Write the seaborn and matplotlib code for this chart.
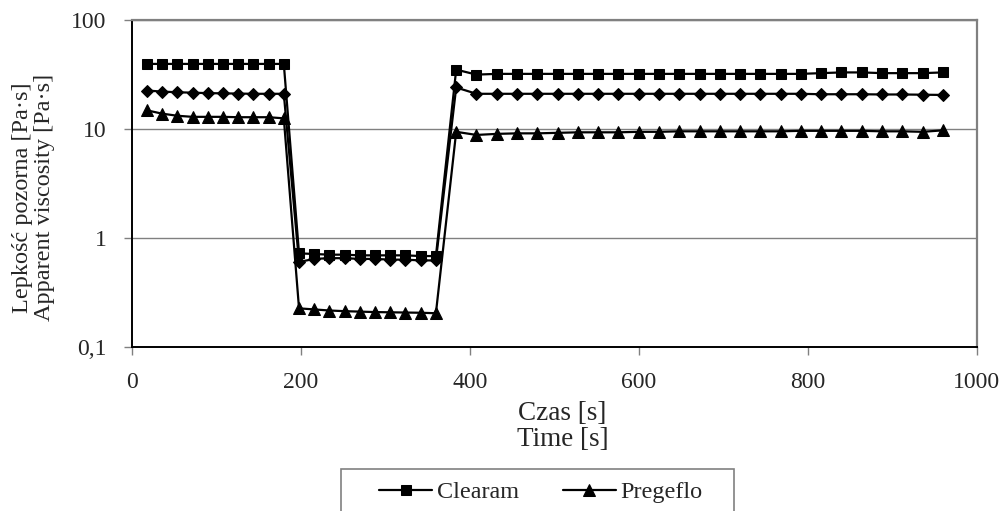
import pandas as pd
import matplotlib.pyplot as plt
import matplotlib.patches as mpatches
import matplotlib.ticker as mticker
import seaborn as sns

# time points [s]
time_s = [18, 36, 54, 72, 90, 108, 126, 144, 162, 180,
          198, 216, 234, 252, 270, 288, 306, 324, 342, 360,
          384, 408, 432, 456, 480, 504, 528, 552, 576, 600, 624, 648, 672,
          696, 720, 744, 768, 792, 816, 840, 864, 888, 912, 936, 960]

clearam = [39.5, 39.5, 39.5, 39.5, 39.5, 39.5, 39.5, 39.5, 39.5, 39.5,
           0.72, 0.71, 0.70, 0.70, 0.69, 0.69, 0.69, 0.69, 0.68, 0.68,
           35, 31.5, 32, 32, 32, 32, 32, 32, 32, 32, 32, 32, 32,
           32, 32, 32, 32, 32, 32.5, 33, 33, 32.5, 32.5, 32.5, 33]

third_series = [22.5, 22, 21.7, 21.5, 21.3, 21.2, 21.1, 21, 21, 21,
                0.60, 0.64, 0.65, 0.65, 0.64, 0.64, 0.63, 0.63, 0.62, 0.62,
                24, 21, 21, 21, 21, 21, 21, 21, 21, 21, 21, 21, 21,
                21, 21, 21, 21, 21, 20.8, 20.8, 20.8, 20.7, 20.7, 20.6, 20.5]

pregeflo = [14.8, 13.8, 13.2, 12.9, 12.9, 12.9, 12.8, 12.8, 12.8, 12.5,
            0.225, 0.22, 0.215, 0.212, 0.21, 0.208, 0.207, 0.206, 0.205, 0.203,
            9.4, 8.8, 9.0, 9.1, 9.1, 9.2, 9.3, 9.3, 9.3, 9.4, 9.4, 9.5, 9.5,
            9.5, 9.5, 9.5, 9.5, 9.6, 9.6, 9.6, 9.6, 9.5, 9.5, 9.4, 9.7]

y_ticks = [0.1, 1, 10, 100]
y_ticklabels = ["0,1", "1", "10", "100"]
x_ticks = [0, 200, 400, 600, 800, 1000]

sns.set_style("white")
plt.rcParams['font.family'] = ['Liberation Serif', 'DejaVu Serif']

df = pd.DataFrame({"t": time_s, "clearam": clearam, "third": third_series, "pregeflo": pregeflo})

fig = plt.figure(figsize=(10.07, 5.11), dpi=100)
ax = fig.add_axes([0.1308, 0.3215, 0.8391, 0.6394])

sns.lineplot(data=df, x="t", y="clearam", ax=ax, color="black", marker="s", markersize=7.5,
             markeredgecolor="black", linewidth=1.6, label="Clearam")
sns.lineplot(data=df, x="t", y="third", ax=ax, color="black", marker="D", markersize=6.5,
             markeredgecolor="black", linewidth=1.6, legend=False)
sns.lineplot(data=df, x="t", y="pregeflo", ax=ax, color="black", marker="^", markersize=8.5,
             markeredgecolor="black", linewidth=1.6, label="Pregeflo")

ax.set_yscale("log")
ax.set_ylim(0.1, 100)
ax.set_xlim(0, 1000)
ax.set_xticks(x_ticks)
ax.set_yticks(y_ticks)
ax.set_yticklabels(y_ticklabels)
ax.yaxis.set_minor_locator(mticker.NullLocator())
ax.grid(axis="y", color="#808080", linewidth=1.0)
ax.grid(axis="x", visible=False)
ax.tick_params(axis="both", which="major", direction="out", length=6, width=1,
               color="#808080", labelsize=17, pad=12, left=True, bottom=True)

for side in ["left", "bottom"]:
    ax.spines[side].set_color("black")
    ax.spines[side].set_linewidth(1.4)
for side in ["top", "right"]:
    ax.spines[side].set_color("#808080")
    ax.spines[side].set_linewidth(1.6)

ax.set_xlabel("Czas [s]\nTime [s]", fontsize=19.5, linespacing=1.07)
ax.set_ylabel("Lepkość pozorna [Pa·s]\nApparent viscosity [Pa·s]", fontsize=17.5,
              linespacing=1.08)
ax.xaxis.set_label_coords(0.51, -0.165)
ax.yaxis.set_label_coords(-0.091, 0.456)

handles, labels = ax.get_legend_handles_labels()
ax.get_legend().remove()
fig.legend(handles, labels, loc="center", bbox_to_anchor=(541 / 1007, 1 - 492 / 511),
           ncol=2, frameon=False, fontsize=17.4, handlelength=2.2, handletextpad=0.2,
           columnspacing=1.8)

frame = mpatches.Rectangle((341 / 1007, -0.05), (734 - 341) / 1007, (1 - 469 / 511) + 0.05,
                           transform=fig.transFigure, fill=False, edgecolor="#808080",
                           linewidth=1.2)
fig.patches.append(frame)

plt.savefig("out.png", dpi=100)
